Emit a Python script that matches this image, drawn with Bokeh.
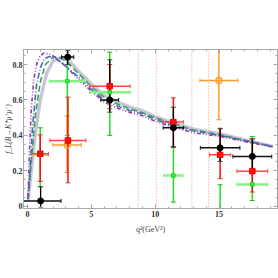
import numpy as np
from bokeh.plotting import figure
from bokeh.models import Range1d, Span, FixedTicker, LinearAxis
from bokeh.embed import file_html
from bokeh.resources import INLINE

# ---------------- theory curves (q2 in GeV^2, f_L) ----------------
q2_gray = [0.05, 0.1, 0.3, 0.6, 1.0, 1.5, 2.0, 2.6, 3.2, 4.07, 5.0, 6.0, 7.0, 8.0, 8.9, 10.0, 11.4, 13.0, 15.0, 17.0, 19.2]
fl_gray = [0.03, 0.07, 0.2, 0.4, 0.6, 0.75, 0.82, 0.84, 0.825, 0.757, 0.69, 0.625, 0.59, 0.56, 0.541, 0.505, 0.47, 0.435, 0.41, 0.375, 0.338]

q2_green = [0.05, 0.3, 0.6, 1.0, 1.4, 2.0, 2.5, 3.0, 4.07, 5.0, 6.0, 7.0, 8.0, 8.9, 10.0, 11.4, 13.0, 15.0, 17.0, 19.2]
fl_green = [0.04, 0.25, 0.5, 0.7, 0.8, 0.842, 0.84, 0.82, 0.744, 0.675, 0.616, 0.578, 0.55, 0.53, 0.5, 0.465, 0.43, 0.405, 0.372, 0.337]

q2_blue = [0.05, 0.2, 0.4, 0.7, 1.0, 1.3, 1.7, 2.2, 3.0, 4.07, 5.0, 6.0, 7.0, 8.0, 8.9, 10.0, 11.4, 13.0, 15.0, 17.0, 19.2]
fl_blue = [0.04, 0.2, 0.45, 0.68, 0.78, 0.83, 0.845, 0.835, 0.79, 0.725, 0.66, 0.6, 0.567, 0.54, 0.524, 0.49, 0.455, 0.425, 0.4, 0.37, 0.337]

q2_purple = [0.05, 0.15, 0.3, 0.5, 0.75, 1.0, 1.3, 1.7, 2.2, 3.0, 4.07, 5.0, 6.0, 7.0, 8.0, 8.9, 10.0, 11.4, 13.0, 15.0, 17.0, 19.2]
fl_purple = [0.05, 0.3, 0.55, 0.72, 0.81, 0.85, 0.865, 0.86, 0.84, 0.79, 0.71, 0.65, 0.588, 0.555, 0.53, 0.513, 0.48, 0.445, 0.415, 0.395, 0.365, 0.335]

# ---------------- charmonium veto boundaries ----------------
veto_q2 = [8.68, 10.09, 12.86, 14.18]

# ---------------- measurements ----------------
# black
blk_q2 = [1.03, 3.15, 6.44, 11.42, 15.08, 17.6]
blk_dq2 = [1.6, 0.48, 0.7, 0.8, 1.55, 1.52]
blk_fl = [0.03, 0.842, 0.60, 0.443, 0.33, 0.281]
blk_lo = [-0.01, 0.80, 0.531, 0.333, 0.253, 0.20]
blk_hi = [0.11, 0.88, 0.827, 0.559, 0.44, 0.38]

# red
red_q2 = [1.0, 3.17, 6.44, 11.42, 15.08, 17.6]
red_dq2 = [0.64, 1.4, 1.6, 0.78, 0.83, 1.2]
red_fl = [0.296, 0.371, 0.678, 0.475, 0.29, 0.198]
red_lo = [0.14, 0.132, 0.55, 0.337, 0.155, 0.08]
red_hi = [0.403, 0.616, 0.80, 0.612, 0.437, 0.381]

# green
grn_q2 = [1.0, 3.12, 6.44, 11.42, 15.08, 17.6]
grn_dq2 = [0.64, 1.42, 1.6, 0.75, 0.9, 1.2]
grn_fl = [0.29, 0.706, 0.644, 0.173, -0.05, 0.123]
grn_lo = [0.11, 0.40, 0.40, 0.023, -0.2, 0.032]
grn_hi = [0.443, 1.0, 0.87, 0.333, 0.121, 0.394]

# orange
org_q2 = [3.1, 14.98]
org_dq2 = [1.12, 1.48]
org_fl = [0.345, 0.71]
org_lo = [0.19, 0.488]
org_hi = [0.51, 0.95]

x_ticks = [0, 5, 10, 15]
x_minor = [float(v) for v in range(0, 20)]
y_ticks = [0.0, 0.2, 0.4, 0.6, 0.8]
y_minor = [round(0.05 * i, 2) for i in range(0, 18)]

FONT = "Liberation Serif"
FRAME = "#a8a8a8"

p = figure(width=278, height=278, x_range=Range1d(-0.31, 19.57), y_range=Range1d(-0.013, 0.885),
           output_backend="svg", toolbar_location=None,
           min_border_left=0, min_border_right=1, min_border_top=49, min_border_bottom=70,
           x_axis_location=None, y_axis_location=None)
p.grid.visible = False
p.outline_line_color = FRAME
p.background_fill_color = "white"

def style_axis(ax):
    ax.axis_line_color = FRAME
    ax.major_tick_in = 4
    ax.major_tick_out = 0
    ax.minor_tick_in = 2
    ax.minor_tick_out = 0
    ax.major_tick_line_color = FRAME
    ax.minor_tick_line_color = FRAME
    ax.major_label_text_font = FONT
    ax.major_label_text_font_size = "8px"
    ax.major_label_text_font_style = "bold"
    ax.major_label_text_color = "#333333"
    ax.major_label_standoff = 2

def tick_only_axis(ticks, length):
    ax = LinearAxis(ticker=FixedTicker(ticks=[], minor_ticks=ticks))
    ax.axis_line_color = FRAME
    ax.major_tick_in = 0
    ax.major_tick_out = 0
    ax.minor_tick_in = length
    ax.minor_tick_out = 0
    ax.minor_tick_line_color = FRAME
    return ax

xb = LinearAxis(ticker=FixedTicker(ticks=x_ticks, minor_ticks=x_minor),
                axis_label="q²(GeV²)", axis_label_text_font=FONT,
                axis_label_text_font_size="8px", axis_label_text_font_style="normal",
                axis_label_standoff=5)
style_axis(xb)
p.add_layout(xb, "below")
yl = LinearAxis(ticker=FixedTicker(ticks=y_ticks, minor_ticks=y_minor),
                axis_label="f_L(B→K*μ⁺μ⁻)", axis_label_text_font=FONT,
                axis_label_text_font_size="7.5px", axis_label_text_font_style="italic",
                axis_label_standoff=-3)
style_axis(yl)
yl.major_label_standoff = 1
p.add_layout(yl, "left")
p.add_layout(tick_only_axis(x_ticks, 4), "above")
p.add_layout(tick_only_axis(x_minor, 2), "above")
p.add_layout(tick_only_axis(y_ticks, 4), "right")
p.add_layout(tick_only_axis(y_minor, 2), "right")

for v in veto_q2:
    p.add_layout(Span(location=v, dimension="height", line_color="#ff9a9a",
                      line_dash="1 2", line_width=1.2))

# curves
p.line(q2_gray, fl_gray, line_color="#c6c6d8", line_width=3.4)
p.line(q2_green, fl_green, line_color="#3f9f4f", line_width=1.6, line_dash="6 3")
p.line(q2_blue, fl_blue, line_color="#3f6fbf", line_width=1.6, line_dash="6 2 1 2")
p.line(q2_purple, fl_purple, line_color="#9a3aaa", line_width=1.6, line_dash="4 2 1 2 1 2")

def errset(q2, dq2, fl, lo, hi, vcol, hcol, hwidth, vwidth, capcol):
    q2 = np.array(q2); dq2 = np.array(dq2); fl = np.array(fl)
    p.segment(q2 - dq2, fl, q2 + dq2, fl, line_color=hcol, line_width=hwidth)
    p.segment(q2, lo, q2, hi, line_color=vcol, line_width=vwidth)
    p.scatter(list(q2) + list(q2), list(lo) + list(hi), marker="dash", size=5,
              line_color=capcol, line_width=1)
    p.scatter(list(q2 - dq2) + list(q2 + dq2), list(fl) + list(fl), marker="dash",
              angle=np.pi / 2, size=4, line_color=hcol, line_width=1)

errset(grn_q2, grn_dq2, grn_fl, grn_lo, grn_hi, "#22dd22", "#88f088", 2.5, 1.5, "#22bb22")
errset(org_q2, org_dq2, org_fl, org_lo, org_hi, "#ff9a2a", "#ff9a2a", 1.5, 1.5, "#ff8a1a")
errset(red_q2, red_dq2, red_fl, red_lo, red_hi, "#ee1111", "#ff4444", 1.5, 1.5, "#dd3333")
errset(blk_q2, blk_dq2, blk_fl, blk_lo, blk_hi, "#000000", "#111111", 1.5, 1.3, "#444444")

p.scatter(grn_q2, grn_fl, marker="square", size=3.5, fill_color="#44ee44", line_color="#22cc22")
p.scatter(org_q2, org_fl, marker="circle", size=6, fill_color=None, line_color="#ff9a2a", line_width=1.3)
p.scatter(red_q2, red_fl, marker="square", size=5.5, fill_color="#ff1111", line_color="#ee0000")
p.scatter(blk_q2, blk_fl, marker="circle", size=6, fill_color="black", line_color="black")

open("out.html", "w").write(file_html(p, INLINE))
